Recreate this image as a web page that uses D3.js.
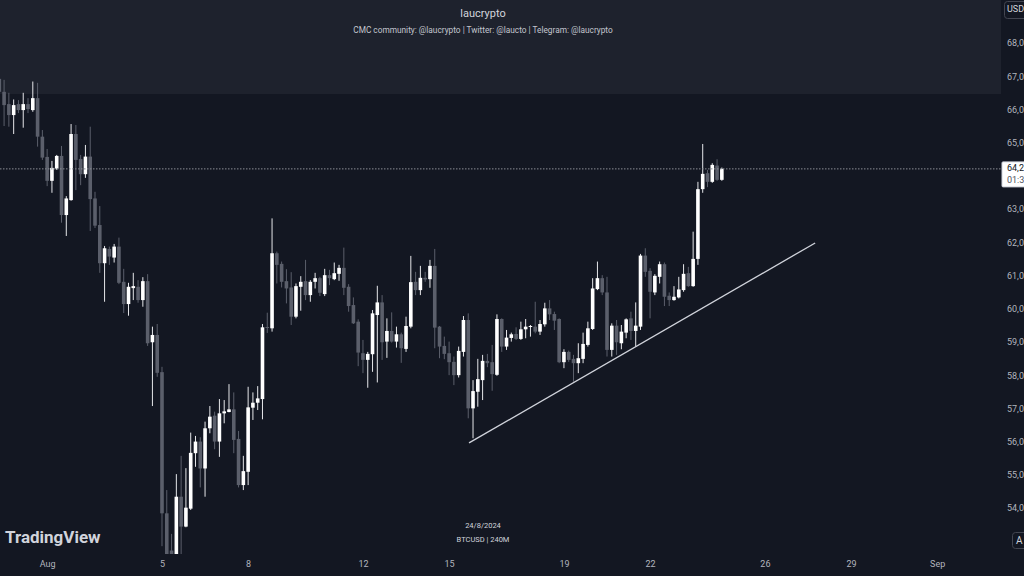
<!DOCTYPE html>
<html><head><meta charset="utf-8">
<script src="https://cdn.jsdelivr.net/npm/d3@7"></script>
<style>
html,body{margin:0;padding:0;background:#131722;overflow:hidden;}
svg{display:block;}
text{font-family:Roboto,"Open Sans","DejaVu Sans",sans-serif;}
</style></head><body>
<svg id="chart" width="1024" height="576"></svg>
<script>
// ---------- data (BTCUSD, 240 minute candles) ----------
const startTime = "2024-07-30T08:00:00Z";
const intervalHours = 4;
const opens = [66920,66530,66160,65830,66160,65980,66160,65980,66340,65180,64570,63850,64220,64600,62820,63270,65260,64510,64050,64580,63320,62520,61370,61800,61540,61870,60810,60140,60620,60660,60260,60830,58990,59210,58090,53840,52720,52500,54340,53440,53980,55650,56000,55190,56400,56780,56000,56850,56890,56970,56080,54690,55090,57020,57170,57280,59450,59410,61670,61350,60830,60640,59760,60660,60830,60410,60810,60920,60440,61010,60890,61050,61230,60660,60110,59610,58660,58460,58630,59810,60190,59010,59330,59010,59230,58790,59460,60810,60560,60930,60890,61290,59460,58880,58660,58400,58000,58700,59660,57000,57500,57850,58430,58390,58010,59690,58860,59120,59240,59090,59380,59460,59460,59310,59530,60010,59840,59690,58390,58700,58490,58360,58490,58910,59390,60590,60920,60490,58760,59490,58960,59280,59710,59330,59460,61600,61140,60490,60960,61340,60390,60260,60340,60560,61070,60680,61500,63600,64080,63820,64310,63880];
const highs = [66980,66890,66500,66300,66280,66500,66340,66840,66800,65380,64810,64450,64630,64900,63390,65560,65530,64630,64930,65480,63520,63090,61890,61870,61950,62140,61200,60780,61080,60860,60950,61040,59460,59540,58250,54540,53220,55020,55570,55200,56270,56170,56130,56600,57070,56900,57280,57250,57730,57480,56320,55570,57650,57480,57670,59540,59880,62720,61720,61420,61190,61100,60760,60980,61470,60860,61080,60960,61200,61170,61390,61320,61840,60740,60340,59680,59060,58700,59960,60690,60410,59710,59890,59460,59280,59760,61590,61110,61290,61110,61470,61800,59480,59160,59010,58560,58860,59780,59860,57850,58490,58610,58640,58910,59830,59710,59360,59280,59440,59610,59690,59510,60210,59660,60180,60260,59910,59710,58780,58740,58610,58960,59280,59610,60920,61420,61010,60960,59560,59660,59510,59710,59910,60190,61650,61820,61220,61040,61420,61390,60490,60680,60960,61340,61260,62320,63820,64960,64180,64380,64500,64250];
const lows = [66460,65500,65480,65260,65890,65450,65890,65930,64880,64480,63690,63490,64180,62590,62190,63250,63570,63720,63940,62340,62430,61080,60210,61320,61390,60740,59870,59790,60260,60180,60060,58880,57070,57950,52850,49600,50000,51500,52400,53420,53940,55240,54620,54340,56250,55770,55540,56550,56880,55650,54620,54540,54690,56650,56950,56670,59270,59310,60760,60640,60160,59510,59710,59940,60260,60210,60610,60380,60380,60710,60860,60840,60410,59910,59540,58270,58060,57620,58100,57780,58460,58520,58980,58830,58370,58700,59410,60410,60410,60810,60630,58810,58510,58480,58000,57700,57930,58560,56700,56100,57050,57250,58240,57530,57980,58700,58760,59010,59060,59060,59110,59160,59260,59210,59460,59660,59360,58360,58210,58400,57800,58060,58360,58860,59360,60560,60410,58560,58560,58610,58780,59110,59060,58860,59360,60960,59710,60410,60760,60080,60080,60240,60310,60510,60660,60660,61320,63490,63660,63790,63850,63850];
const closes = [66530,66130,65830,66130,65980,66160,66010,66340,65180,64550,63850,64240,64600,62820,63320,65260,64480,64050,64580,63300,62500,61370,61820,61570,61870,60780,60140,60660,60680,60260,60830,58960,59210,58070,53840,52300,52400,54340,53440,54010,55660,56000,55190,56400,56750,56000,56850,56910,56970,56050,54690,55110,57030,57170,57300,59440,59440,61670,61320,60810,60610,59760,60680,60810,60410,60810,60920,60480,61010,60920,61070,61230,60630,60080,59560,58680,58460,58640,59860,60190,58990,59330,59010,59230,58810,59480,60800,60560,60930,60880,61290,59430,58860,58640,58390,58000,58730,59660,57000,57520,57880,58430,58360,58030,59690,58860,59130,59230,59090,59380,59460,59480,59310,59540,60010,59830,59640,58390,58700,58460,58360,58510,58940,59410,60610,60920,60490,58760,59490,58990,59310,59680,59330,59490,61600,61110,60510,60990,61340,60360,60260,60360,60580,61050,60680,61500,63600,64060,63820,64330,63880,64210];

const priceTicks = [54000,55000,56000,57000,58000,59000,60000,61000,62000,63000,64000,65000,66000,67000,68000];
const timeTicks = ["2024-08-01","2024-08-05","2024-08-08","2024-08-12","2024-08-15","2024-08-19","2024-08-22","2024-08-26","2024-08-29","2024-09-01"];
const timeTickLabels = ["Aug","5","8","12","15","19","22","26","29","Sep"];
const visibleRange = ["2024-07-30T08:35:00Z","2024-09-03T05:21:00Z"];
const priceRange = [54000, 68000];
const trendTimes = ["2024-08-15T16:40:00Z","2024-08-27T18:00:00Z"];
const trendPrices = [55960, 61980];
const countdown = "01:35:12";
const titleText = "laucrypto";
const subtitleText = "CMC community: @laucrypto | Twitter: @laucto | Telegram: @laucrypto";
const dateStamp = "24/8/2024";
const symbolText = "BTCUSD | 240M";

// ---------- layout ----------
const W = 1024, H = 576, plotW = 1001, plotH = 554;
const svg = d3.select("#chart");
const x = d3.scaleUtc().domain(visibleRange.map(d => new Date(d))).range([0, plotW]);
const y = d3.scaleLinear().domain(priceRange).range([508, 43]);

const candles = opens.map((o, i) => ({
  t: new Date(new Date(startTime).getTime() + i * intervalHours * 3600e3),
  o, h: highs[i], l: lows[i], c: closes[i]
}));
const last = candles[candles.length - 1];
const ly = y(last.c);

const UP = "#ffffff", DOWN = "#5b5f6b";

svg.append("rect").attr("width", W).attr("height", H).attr("fill", "#131722");
svg.append("rect").attr("x", 0).attr("y", 0).attr("width", plotW).attr("height", 94).attr("fill", "#1e222d");

svg.append("text").attr("x", 483).attr("y", 14).attr("text-anchor", "middle").attr("dominant-baseline", "middle")
  .attr("font-size", 11).attr("fill", "#d1d4dc").text(titleText);
svg.append("text").attr("x", 483).attr("y", 31).attr("text-anchor", "middle").attr("dominant-baseline", "middle")
  .attr("font-size", 8.3).attr("fill", "#c3c6ce").text(subtitleText);

svg.append("clipPath").attr("id", "plotclip").append("rect").attr("x", 0).attr("y", 0).attr("width", plotW).attr("height", plotH);
const plot = svg.append("g").attr("clip-path", "url(#plotclip)");

const bw = 3.6;
const g = plot.append("g");
g.selectAll("line.wick").data(candles).join("line").attr("class", "wick")
  .attr("x1", d => x(d.t)).attr("x2", d => x(d.t))
  .attr("y1", d => y(d.h)).attr("y2", d => y(d.l))
  .attr("stroke", d => d.c >= d.o ? "#e6e7ea" : DOWN).attr("stroke-width", 1);
g.selectAll("rect.body").data(candles).join("rect").attr("class", "body")
  .attr("x", d => x(d.t) - bw / 2).attr("width", bw)
  .attr("y", d => y(Math.max(d.o, d.c)))
  .attr("height", d => Math.max(1, Math.abs(y(d.o) - y(d.c))))
  .attr("fill", d => d.c >= d.o ? UP : DOWN);

plot.append("line").attr("x1", 0).attr("x2", plotW).attr("y1", ly).attr("y2", ly)
  .attr("stroke", "#8a8d96").attr("stroke-width", 1).attr("stroke-dasharray", "1.5,1.5");

plot.append("line")
  .attr("x1", x(new Date(trendTimes[0]))).attr("y1", y(trendPrices[0]))
  .attr("x2", x(new Date(trendTimes[1]))).attr("y2", y(trendPrices[1]))
  .attr("stroke", "#d1d4dc").attr("stroke-width", 1.3);

// y axis (labels hidden behind the last-price label are dropped, as the platform does)
const shownTicks = priceTicks.filter(p => Math.abs(y(p) - (ly + 5)) > 14);
const yAxis = svg.append("g").attr("transform", `translate(${plotW},0)`)
  .call(d3.axisRight(y).tickValues(shownTicks).tickFormat(d3.format(",.2f")).tickSize(0).tickPadding(6));
yAxis.select(".domain").remove();
yAxis.selectAll("text").attr("fill", "#b2b5be").attr("font-size", 9).attr("font-family", "Roboto,sans-serif");

// x axis
const xAxis = svg.append("g").attr("transform", `translate(0,558)`)
  .call(d3.axisBottom(x).tickValues(timeTicks.map(d => new Date(d + "T00:00:00Z")))
    .tickFormat((d, i) => timeTickLabels[i]).tickSize(0).tickPadding(3));
xAxis.select(".domain").remove();
xAxis.selectAll("text").attr("fill", "#b2b5be").attr("font-size", 9).attr("font-family", "Roboto,sans-serif");

// last price label
svg.append("rect").attr("x", plotW + 1).attr("y", ly - 7).attr("width", 30).attr("height", 25)
  .attr("fill", "#ffffff").attr("stroke", "#d1d4dc").attr("rx", 1);
svg.append("text").attr("x", plotW + 6).attr("y", ly).attr("dominant-baseline", "middle")
  .attr("font-size", 9).attr("fill", "#131722").text(d3.format(",.2f")(last.c));
svg.append("text").attr("x", plotW + 6).attr("y", ly + 12).attr("dominant-baseline", "middle")
  .attr("font-size", 9).attr("fill", "#50535e").text(countdown);

// USD & A buttons
svg.append("rect").attr("x", 1004.5).attr("y", 1.5).attr("width", 30).attr("height", 17).attr("rx", 3)
  .attr("fill", "#131722").attr("stroke", "#434651");
svg.append("text").attr("x", 1007).attr("y", 10).attr("dominant-baseline", "middle")
  .attr("font-size", 9).attr("fill", "#d1d4dc").text("USD");
svg.append("rect").attr("x", 1012.5).attr("y", 532.5).attr("width", 20).attr("height", 16).attr("rx", 3)
  .attr("fill", "#131722").attr("stroke", "#434651");
svg.append("text").attr("x", 1016).attr("y", 541).attr("dominant-baseline", "middle")
  .attr("font-size", 10).attr("fill", "#d1d4dc").text("A");

// watermark / logo
svg.append("text").attr("x", 5).attr("y", 543).attr("font-size", 17).attr("font-weight", "bold")
  .attr("fill", "#d1d4dc").attr("font-family", "Lato,Roboto,sans-serif").text("TradingView");
svg.append("text").attr("x", 483).attr("y", 526).attr("text-anchor", "middle").attr("dominant-baseline", "middle")
  .attr("font-size", 7.5).attr("fill", "#d1d4dc").text(dateStamp);
svg.append("text").attr("x", 483).attr("y", 540).attr("text-anchor", "middle").attr("dominant-baseline", "middle")
  .attr("font-size", 7.5).attr("fill", "#d1d4dc").text(symbolText);
</script>
</body></html>
